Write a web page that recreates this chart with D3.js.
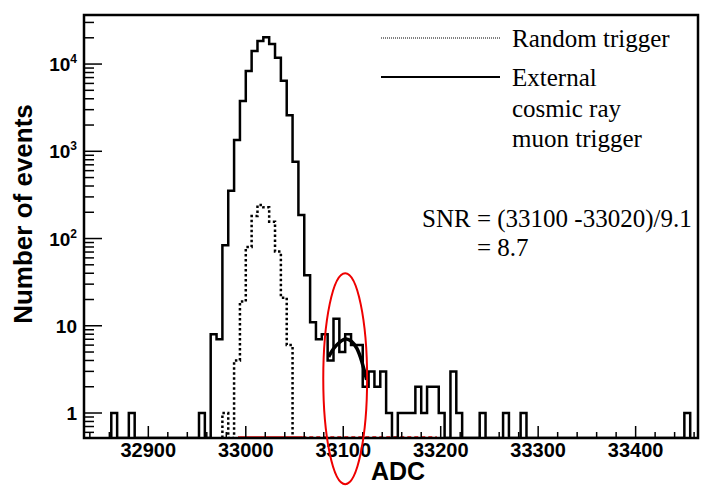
<!DOCTYPE html>
<html>
<head>
<meta charset="utf-8">
<script src="https://cdn.jsdelivr.net/npm/d3@7"></script>
<style>
  body { margin: 0; background: #fff; }
  svg { display: block; }
  .lbl { font-family: "Liberation Sans", Arial, sans-serif; font-weight: bold; fill: #000; }
  .serif { font-family: "Liberation Serif", "Times New Roman", serif; fill: #000; }
</style>
</head>
<body>
<svg id="chart" width="703" height="491"></svg>
<script>
// axis ranges
var adcMin = 32834, adcMax = 33464;
var countMin = 0.517, countMax = 36500;

// histogram binning (ADC)
var binStart = 32838, binWidth = 6;

// External cosmic ray muon trigger, counts per bin
var muonCounts = [
  0, 0, 0, 0, 1, 0, 0, 1, 0, 0, 0, 0, 0, 0, 0,
  0, 0, 0, 0, 1, 0, 8, 7, 84, 353, 1346, 3767, 8318, 14090, 18350,
  20230, 16950, 11810, 6435, 2583, 759, 186, 38, 11, 7, 8, 4, 12, 5, 8,
  6, 6, 2, 3, 2, 3, 1, 0, 1, 1, 1, 2, 1, 2, 2,
  1, 0, 3, 1, 0, 0, 0, 1, 0, 0, 0, 1, 0, 0, 1,
  0, 0, 0, 0, 0, 0, 0, 0, 0, 0, 0, 0, 0, 0, 0,
  0, 0, 0, 0, 0, 0, 0, 0, 0, 0, 0, 0, 1, 0, 0
];

// Random trigger, counts per bin
var randomCounts = [
  0, 0, 0, 0, 0, 0, 0, 0, 0, 0, 0, 0, 0, 0, 0,
  0, 0, 0, 0, 0, 0, 0, 0, 1, 0, 4, 19, 80, 181, 242,
  228, 156, 71, 21, 6, 0, 0, 0, 0, 0, 0, 0, 0, 0, 0,
  0, 0, 0, 0, 0, 0, 0, 0, 0, 0, 0, 0, 0, 0, 0,
  0, 0, 0, 0, 0, 0, 0, 0, 0, 0, 0, 0, 0, 0, 0,
  0, 0, 0, 0, 0, 0, 0, 0, 0, 0, 0, 0, 0, 0, 0,
  0, 0, 0, 0, 0, 0, 0, 0, 0, 0, 0, 0, 0, 0, 0
];

// gaussian fit drawn over the signal bump
var fitAdc = [33085, 33089, 33093, 33098, 33103, 33108, 33114, 33119, 33124];
var fitVal = [4.4, 5.3, 6.0, 6.8, 7.2, 6.8, 5.7, 4.0, 2.4];

// red zero-level line along the axis
var redAdc = [32992, 33058, 33196];

// red ellipse around the signal
var ellipseAdc = 33102, ellipseHalfWidth = 22.5, ellipseTop = 40, ellipseBottom = 0.153;

var xMajor = [32900, 33000, 33100, 33200, 33300, 33400];
var yMajor = [1, 10, 100, 1000, 10000];
var yExp = ["1", "10", "2", "3", "4"];

var svg = d3.select("#chart");

var x = d3.scaleLinear().domain([adcMin, adcMax]).range([84, 698]);
var y = d3.scaleLog().domain([countMin, countMax]).range([438, 15]);

svg.append("defs").append("clipPath").attr("id", "plot")
  .append("rect").attr("x", 84).attr("y", 15).attr("width", 614).attr("height", 423);

function stepPoints(counts) {
  var first = counts.findIndex(function(c) { return c > 0; });
  var last = counts.length - 1;
  while (counts[last] === 0) last--;
  var pts = [];
  for (var i = first; i <= last; i++) pts.push([binStart + i * binWidth, counts[i]]);
  pts.push([binStart + (last + 1) * binWidth, 0]);
  pts.unshift([binStart + first * binWidth, 0]);
  return pts;
}

var step = d3.line()
  .x(function(d) { return x(d[0]); })
  .y(function(d) { return d[1] > 0 ? y(d[1]) : y.range()[0]; })
  .curve(d3.curveStepAfter);

var g = svg.append("g").attr("clip-path", "url(#plot)");

// red line at the bottom
g.append("line")
  .attr("x1", x(redAdc[0])).attr("x2", x(redAdc[1]))
  .attr("y1", 437).attr("y2", 437)
  .attr("stroke", "#e00").attr("stroke-width", 1.5);
g.append("line")
  .attr("x1", x(redAdc[1])).attr("x2", x(redAdc[2]))
  .attr("y1", 437).attr("y2", 437)
  .attr("stroke", "#e00").attr("stroke-width", 1.5)
  .attr("stroke-dasharray", "4,3");

// random trigger (dotted)
g.append("path")
  .attr("d", step(stepPoints(randomCounts)))
  .attr("fill", "none").attr("stroke", "#000")
  .attr("stroke-width", 2.5).attr("stroke-dasharray", "2.5,2.5");

// muon trigger (solid)
g.append("path")
  .attr("d", step(stepPoints(muonCounts)))
  .attr("fill", "none").attr("stroke", "#000")
  .attr("stroke-width", 2.5);

// fit
var fitLine = d3.line()
  .x(function(d, i) { return x(fitAdc[i]); })
  .y(function(d) { return y(d); })
  .curve(d3.curveBasis);
g.append("path")
  .attr("d", fitLine(fitVal))
  .attr("fill", "none").attr("stroke", "#000").attr("stroke-width", 3.5);

// frame
svg.append("rect")
  .attr("x", 84).attr("y", 15).attr("width", 614).attr("height", 423)
  .attr("fill", "none").attr("stroke", "#000").attr("stroke-width", 2.5);

// x ticks, every 20 ADC, long ones every 100
var xTicks = d3.range(32840, adcMax, 20);
svg.append("g").selectAll("line").data(xTicks).enter().append("line")
  .attr("x1", function(d) { return x(d); }).attr("x2", function(d) { return x(d); })
  .attr("y1", 438)
  .attr("y2", function(d) { return d % 100 === 0 ? 426 : 432; })
  .attr("stroke", "#000").attr("stroke-width", 1.5);

svg.append("g").selectAll("text").data(xMajor).enter().append("text")
  .attr("class", "lbl")
  .attr("x", function(d) { return x(d); }).attr("y", 457)
  .attr("text-anchor", "middle").attr("font-size", 20)
  .text(function(d) { return d; });

// y ticks
var yTicks = y.ticks().filter(function(d) { return d >= countMin && d <= countMax; });
svg.append("g").selectAll("line").data(yTicks).enter().append("line")
  .attr("x1", 84)
  .attr("x2", function(d) { return yMajor.indexOf(d) >= 0 ? 102 : 94; })
  .attr("y1", function(d) { return y(d); }).attr("y2", function(d) { return y(d); })
  .attr("stroke", "#000").attr("stroke-width", 1.5);

var yl = svg.append("g").selectAll("text").data(yMajor).enter().append("text")
  .attr("class", "lbl")
  .attr("x", 77).attr("y", function(d) { return y(d) + 7; })
  .attr("text-anchor", "end").attr("font-size", 19);
yl.each(function(d, i) {
  var t = d3.select(this);
  if (i < 2) { t.text(yExp[i]); return; }
  t.append("tspan").text("10");
  t.append("tspan").attr("dy", -8).attr("font-size", 12).text(yExp[i]);
});

// axis titles
svg.append("text").attr("class", "lbl")
  .attr("x", 398).attr("y", 480)
  .attr("text-anchor", "middle").attr("font-size", 25)
  .text("ADC");
svg.append("text").attr("class", "lbl")
  .attr("transform", "translate(32,214) rotate(-90)")
  .attr("text-anchor", "middle").attr("font-size", 26)
  .text("Number of events");

// red ellipse
var ey0 = y(ellipseTop), ey1 = y(ellipseBottom);
svg.append("ellipse")
  .attr("cx", x(ellipseAdc))
  .attr("cy", (ey0 + ey1) / 2)
  .attr("rx", x(ellipseAdc + ellipseHalfWidth) - x(ellipseAdc))
  .attr("ry", (ey1 - ey0) / 2)
  .attr("fill", "none").attr("stroke", "#e00").attr("stroke-width", 2);

// legend
svg.append("line").attr("x1", 381).attr("x2", 500).attr("y1", 38).attr("y2", 38)
  .attr("stroke", "#000").attr("stroke-width", 1).attr("stroke-dasharray", "1,1");
svg.append("line").attr("x1", 381).attr("x2", 500).attr("y1", 77).attr("y2", 77)
  .attr("stroke", "#000").attr("stroke-width", 2);

var legendLines = [
  {text: "Random trigger", x: 512, y: 47},
  {text: "External", x: 512, y: 86},
  {text: "cosmic ray", x: 512, y: 117},
  {text: "muon trigger", x: 512, y: 147},
  {text: "SNR = (33100 -33020)/9.1", x: 422, y: 227},
  {text: "= 8.7", x: 477, y: 256}
];
svg.append("g").selectAll("text").data(legendLines).enter().append("text")
  .attr("class", "serif").attr("font-size", 25)
  .attr("x", function(d) { return d.x; }).attr("y", function(d) { return d.y; })
  .text(function(d) { return d.text; });
</script>
</body>
</html>
